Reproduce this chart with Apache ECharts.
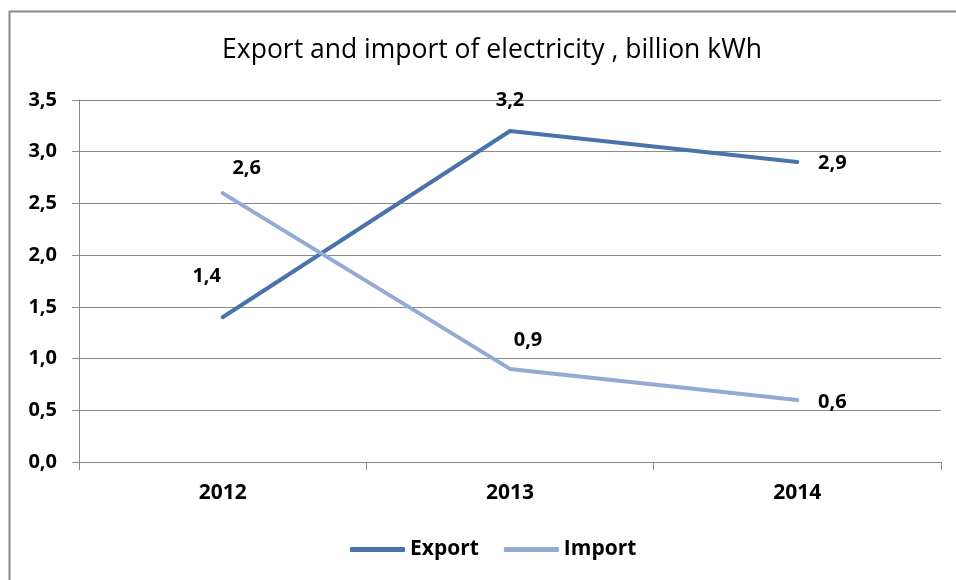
<!DOCTYPE html>
<html>
<head>
<meta charset="utf-8">
<script src="https://cdn.jsdelivr.net/npm/echarts@6/dist/echarts.min.js"></script>
<style>html,body{margin:0;padding:0;background:#fff;overflow:hidden}#c{width:956px;height:580px}</style>
</head>
<body>
<div id="c"></div>
<script>
var titleText = 'Export and import of electricity , billion kWh';
var categories = ['2012', '2013', '2014'];
var exportValues = [1.4, 3.2, 2.9];
var importValues = [2.6, 0.9, 0.6];
var yTicks = [0, 0.5, 1.0, 1.5, 2.0, 2.5, 3.0, 3.5];

var FONT = 'Open Sans';
var exportOffsets = [[-16, -41], [0, -31], [35, 1]];
var importOffsets = [[24, -25], [18, -29], [35, 2]];

function fmt(v) { return v.toFixed(1).replace('.', ','); }

function buildData(values, offsets) {
  return values.map(function (v, i) {
    return {
      value: v,
      label: { show: true, position: 'inside', offset: offsets[i], formatter: fmt(v) }
    };
  });
}

var chart = echarts.init(document.getElementById('c'), null, { renderer: 'canvas' });
chart.setOption({
  animation: false,
  backgroundColor: '#fff',
  graphic: [{
    type: 'line', shape: { x1: 9, y1: 11.5, x2: 956, y2: 11.5 },
    style: { stroke: '#8a8a8a', lineWidth: 2 }, z: 0
  }, {
    type: 'line', shape: { x1: 9.5, y1: 11, x2: 9.5, y2: 580 },
    style: { stroke: '#8a8a8a', lineWidth: 2 }, z: 0
  }],
  title: {
    text: titleText, left: 487, top: 32, textAlign: 'center',
    textStyle: { fontFamily: FONT, fontSize: 26.5, fontWeight: 'normal', color: '#000' }
  },
  legend: {
    left: 345, top: 534,
    itemWidth: 55, itemHeight: 5, itemGap: 25,
    icon: 'roundRect',
    textStyle: { fontFamily: FONT, fontSize: 21, fontWeight: 'bold', color: '#000' },
    data: ['Export', 'Import']
  },
  grid: { left: 79, right: 15, top: 100, bottom: 118, containLabel: false },
  xAxis: {
    type: 'category', data: categories, boundaryGap: true,
    axisLine: { lineStyle: { color: '#8a8a8a', width: 1 } },
    axisTick: { show: true, length: 8, alignWithLabel: false, lineStyle: { color: '#8a8a8a' } },
    axisLabel: { margin: 21, fontFamily: FONT, fontSize: 21, fontWeight: 'bold', color: '#000' }
  },
  yAxis: {
    type: 'value', min: 0, max: 3.5, interval: 0.5,
    axisLine: { show: true, lineStyle: { color: '#8a8a8a', width: 1 } },
    axisTick: { show: true, length: 7, lineStyle: { color: '#8a8a8a' } },
    splitLine: { show: true, lineStyle: { color: '#8a8a8a', width: 1 } },
    axisLabel: {
      margin: 22, fontFamily: FONT, fontSize: 20, fontWeight: 'bold', color: '#000',
      formatter: function (v) { return fmt(v); }
    }
  },
  series: [{
    name: 'Export', type: 'line', data: buildData(exportValues, exportOffsets),
    symbol: 'circle', symbolSize: 3, showSymbol: true,
    itemStyle: { color: '#4a73aa' },
    lineStyle: { color: '#4a73aa', width: 4, cap: 'round' },
    label: { fontFamily: FONT, fontSize: 20, fontWeight: 'bold', color: '#000', align: 'center', verticalAlign: 'middle' },
    emphasis: { disabled: true }
  }, {
    name: 'Import', type: 'line', data: buildData(importValues, importOffsets),
    symbol: 'circle', symbolSize: 3, showSymbol: true,
    itemStyle: { color: '#93abd4' },
    lineStyle: { color: '#93abd4', width: 4, cap: 'round' },
    label: { fontFamily: FONT, fontSize: 20, fontWeight: 'bold', color: '#000', align: 'center', verticalAlign: 'middle' },
    emphasis: { disabled: true }
  }]
});
</script>
</body>
</html>
